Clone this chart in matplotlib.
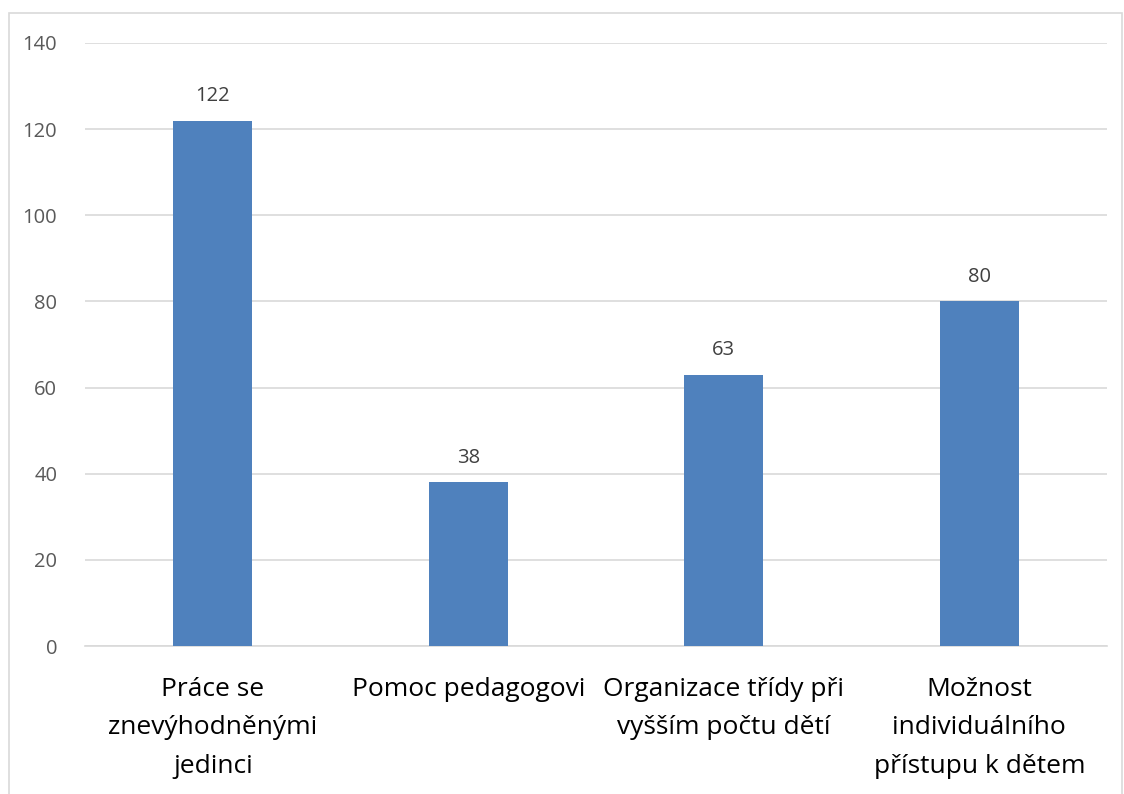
import matplotlib.pyplot as plt
from matplotlib.patches import Rectangle

# data
categories = ['Práce se\nznevýhodněnými\njedinci', 'Pomoc pedagogovi',
              'Organizace třídy při\nvyšším počtu dětí',
              'Možnost\nindividuálního\npřístupu k dětem']
values = [122, 38, 63, 80]
yticks = [0, 20, 40, 60, 80, 100, 120, 140]

plt.rcParams['font.family'] = ['Open Sans', 'DejaVu Sans']

fig = plt.figure(figsize=(11.24, 7.94), dpi=100, facecolor='w')
# chart frame like excel
fig.patches.append(Rectangle((9 / 1124, -0.01), (1122 - 9) / 1124, (794 - 13) / 794 + 0.01,
                             transform=fig.transFigure, fill=False,
                             edgecolor='#d9d9d9', linewidth=1.2))

ax = fig.add_axes([85 / 1124, 148 / 794, (1107 - 85) / 1124, (646 - 43) / 794])
x = list(range(len(values)))
bars = ax.bar(x, values, width=0.31, color='#4f81bd', zorder=3)

for xi, v in zip(x, values):
    ax.text(xi, v + 3.3, str(v), ha='center', va='bottom', fontsize=14.5, color='#404040')

ax.set_xlim(-0.5, len(values) - 0.5)
ax.set_ylim(0, 140)
ax.set_yticks(yticks)
ax.grid(axis='y', color='#d9d9d9', linewidth=1.2, zorder=0)
for s in ['top', 'right', 'left']:
    ax.spines[s].set_visible(False)
ax.spines['bottom'].set_color('#d9d9d9')
ax.spines['bottom'].set_linewidth(1.2)
ax.tick_params(axis='y', length=0, labelsize=14.5, labelcolor='#595959', pad=20)
ax.tick_params(axis='x', length=0, labelsize=19, labelcolor='black', pad=22)
ax.set_xticks(x)
ax.set_xticklabels(categories, linespacing=1.72)

plt.savefig('out.png', dpi=100)
